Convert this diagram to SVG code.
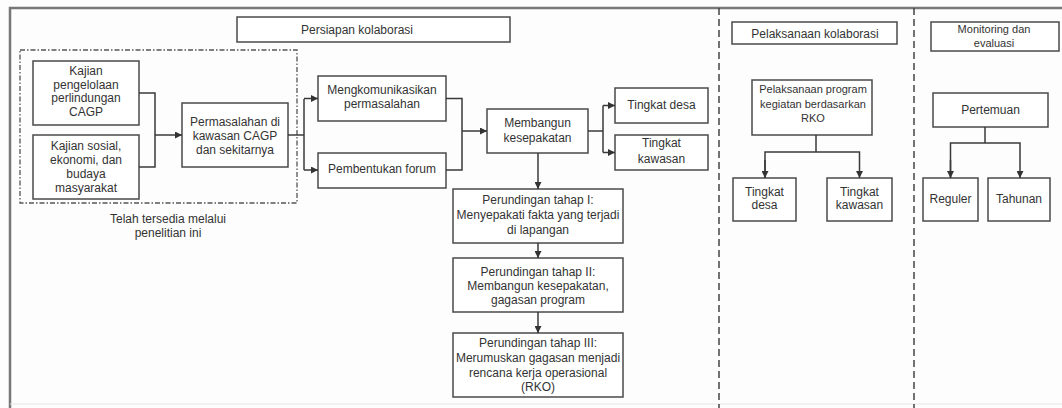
<svg xmlns="http://www.w3.org/2000/svg" width="1062" height="408" viewBox="0 0 1062 408">
<defs>
<marker id="arr" viewBox="0 0 10 10" refX="10" refY="5" markerWidth="7" markerHeight="7" markerUnits="userSpaceOnUse" orient="auto">
<path d="M0,0 L10,5 L0,10 z" fill="#333"/>
</marker>
<style>
.box{fill:#fff;stroke:#4a4a4a;stroke-width:1.5}
.t{font-family:"Liberation Sans",Arial,sans-serif;font-size:12px;fill:#333;text-anchor:middle}
.s{font-size:11px}
.c{fill:none;stroke:#3a3a3a;stroke-width:1.5}
.sep{fill:none;stroke:#444;stroke-width:1.5;stroke-dasharray:7,4}
</style>
</defs>
<rect x="0" y="0" width="1062" height="408" fill="#fdfdfd"/>
<g id="frame">
<path d="M10,408 L10,8 L1062,8" fill="none" stroke="#777" stroke-width="2.5"/>
<path d="M10,404 L1062,404" fill="none" stroke="#e6e6e6" stroke-width="1"/>
<path class="sep" d="M719,8 L719,408"/>
<path class="sep" d="M914,8 L914,408"/>
</g>
<g id="group-tersedia">
<rect x="20" y="50" width="277" height="153" fill="none" stroke="#555" stroke-width="1.3" stroke-dasharray="5,2,1.5,2"/>
<text class="t"><tspan x="168" y="223">Telah tersedia melalui</tspan><tspan x="168" y="237">penelitian ini</tspan></text>
</g>
<g id="h-persiapan"><rect class="box" x="237" y="17" width="273" height="25"/><text class="t" x="357" y="34">Persiapan kolaborasi</text></g>
<g id="h-pelaksanaan"><rect class="box" x="732" y="22" width="165" height="22"/><text class="t" x="815" y="38">Pelaksanaan kolaborasi</text></g>
<g id="h-monitoring"><rect class="box" x="931" y="22" width="128" height="29"/><text class="t s"><tspan x="994" y="33">Monitoring dan</tspan><tspan x="994" y="47">evaluasi</tspan></text></g>
<g id="n-kajian1"><rect class="box" x="33" y="61" width="106" height="64"/><text class="t"><tspan x="86" y="75">Kajian</tspan><tspan x="86" y="88.5">pengelolaan</tspan><tspan x="86" y="102">perlindungan</tspan><tspan x="86" y="115.5">CAGP</tspan></text></g>
<g id="n-kajian2"><rect class="box" x="33" y="135" width="106" height="64"/><text class="t"><tspan x="86" y="150">Kajian sosial,</tspan><tspan x="86" y="164">ekonomi, dan</tspan><tspan x="86" y="178">budaya</tspan><tspan x="86" y="192">masyarakat</tspan></text></g>
<g id="n-permasalahan"><rect class="box" x="182" y="103" width="106" height="64"/><text class="t"><tspan x="235" y="126">Permasalahan di</tspan><tspan x="235" y="140">kawasan CAGP</tspan><tspan x="235" y="154">dan sekitarnya</tspan></text></g>
<g id="n-mengkom"><rect class="box" x="318" y="76" width="128" height="45"/><text class="t"><tspan x="382" y="94">Mengkomunikasikan</tspan><tspan x="382" y="108">permasalahan</tspan></text></g>
<g id="n-forum"><rect class="box" x="318" y="153" width="128" height="35"/><text class="t" x="382" y="173">Pembentukan forum</text></g>
<g id="n-membangun"><rect class="box" x="487" y="109" width="101" height="44"/><text class="t"><tspan x="537.5" y="127">Membangun</tspan><tspan x="537.5" y="142">kesepakatan</tspan></text></g>
<g id="n-desa1"><rect class="box" x="615" y="88" width="93" height="35"/><text class="t" x="661.5" y="109">Tingkat desa</text></g>
<g id="n-kawasan1"><rect class="box" x="615" y="135" width="93" height="35"/><text class="t"><tspan x="661.5" y="147">Tingkat</tspan><tspan x="661.5" y="163">kawasan</tspan></text></g>
<g id="n-tahap1"><rect class="box" x="453" y="189" width="170" height="54"/><text class="t"><tspan x="538" y="204">Perundingan tahap I:</tspan><tspan x="538" y="219">Menyepakati fakta yang terjadi</tspan><tspan x="538" y="234">di lapangan</tspan></text></g>
<g id="n-tahap2"><rect class="box" x="453" y="258" width="170" height="54"/><text class="t"><tspan x="538" y="276">Perundingan tahap II:</tspan><tspan x="538" y="290">Membangun kesepakatan,</tspan><tspan x="538" y="304">gagasan program</tspan></text></g>
<g id="n-tahap3"><rect class="box" x="453" y="333" width="170" height="64"/><text class="t"><tspan x="538" y="347">Perundingan tahap III:</tspan><tspan x="538" y="362">Merumuskan gagasan menjadi</tspan><tspan x="538" y="377">rencana kerja operasional</tspan><tspan x="538" y="391">(RKO)</tspan></text></g>
<g id="n-program"><rect class="box" x="752" y="80" width="120" height="55"/><text class="t s"><tspan x="813" y="93">Pelaksanaan program</tspan><tspan x="813" y="107.5">kegiatan berdasarkan</tspan><tspan x="813" y="122">RKO</tspan></text></g>
<g id="n-desa2"><rect class="box" x="733" y="178" width="63" height="43"/><text class="t"><tspan x="764.5" y="196">Tingkat</tspan><tspan x="764.5" y="209">desa</tspan></text></g>
<g id="n-kawasan2"><rect class="box" x="827" y="178" width="65" height="43"/><text class="t"><tspan x="859.5" y="196">Tingkat</tspan><tspan x="859.5" y="209">kawasan</tspan></text></g>
<g id="n-pertemuan"><rect class="box" x="933" y="93" width="115" height="34"/><text class="t" x="990.5" y="114">Pertemuan</text></g>
<g id="n-reguler"><rect class="box" x="923" y="178" width="55" height="43"/><text class="t" x="950.5" y="203">Reguler</text></g>
<g id="n-tahunan"><rect class="box" x="988" y="178" width="62" height="43"/><text class="t" x="1019" y="203">Tahunan</text></g>
<g id="connectors">
<path class="c" d="M139,93 L155,93 L155,167 L139,167"/>
<path class="c" d="M155,135 L182,135" marker-end="url(#arr)"/>
<path class="c" d="M288,135 L304,135"/>
<path class="c" d="M304,99 L304,170"/>
<path class="c" d="M304,98.5 L318,98.5" marker-end="url(#arr)"/>
<path class="c" d="M304,170 L318,170" marker-end="url(#arr)"/>
<path class="c" d="M446,98.5 L462,98.5 L462,170 L446,170"/>
<path class="c" d="M462,131 L487,131" marker-end="url(#arr)"/>
<path class="c" d="M588,131 L603,131"/>
<path class="c" d="M603,105.5 L603,152.5"/>
<path class="c" d="M603,105.5 L615,105.5" marker-end="url(#arr)"/>
<path class="c" d="M603,152.5 L615,152.5" marker-end="url(#arr)"/>
<path class="c" d="M538,153 L538,189" marker-end="url(#arr)"/>
<path class="c" d="M538,243 L538,258" marker-end="url(#arr)"/>
<path class="c" d="M538,312 L538,333" marker-end="url(#arr)"/>
<path class="c" d="M816,135 L816,152"/>
<path class="c" d="M765,178 L765,152 L859.5,152 L859.5,178" marker-end="url(#arr)"/>
<path class="c" d="M765,160 L765,178" marker-end="url(#arr)"/>
<path class="c" d="M985,127 L985,143"/>
<path class="c" d="M950.5,178 L950.5,143 L1020,143 L1020,178" marker-end="url(#arr)"/>
<path class="c" d="M950.5,160 L950.5,178" marker-end="url(#arr)"/>
</g>
</svg>
